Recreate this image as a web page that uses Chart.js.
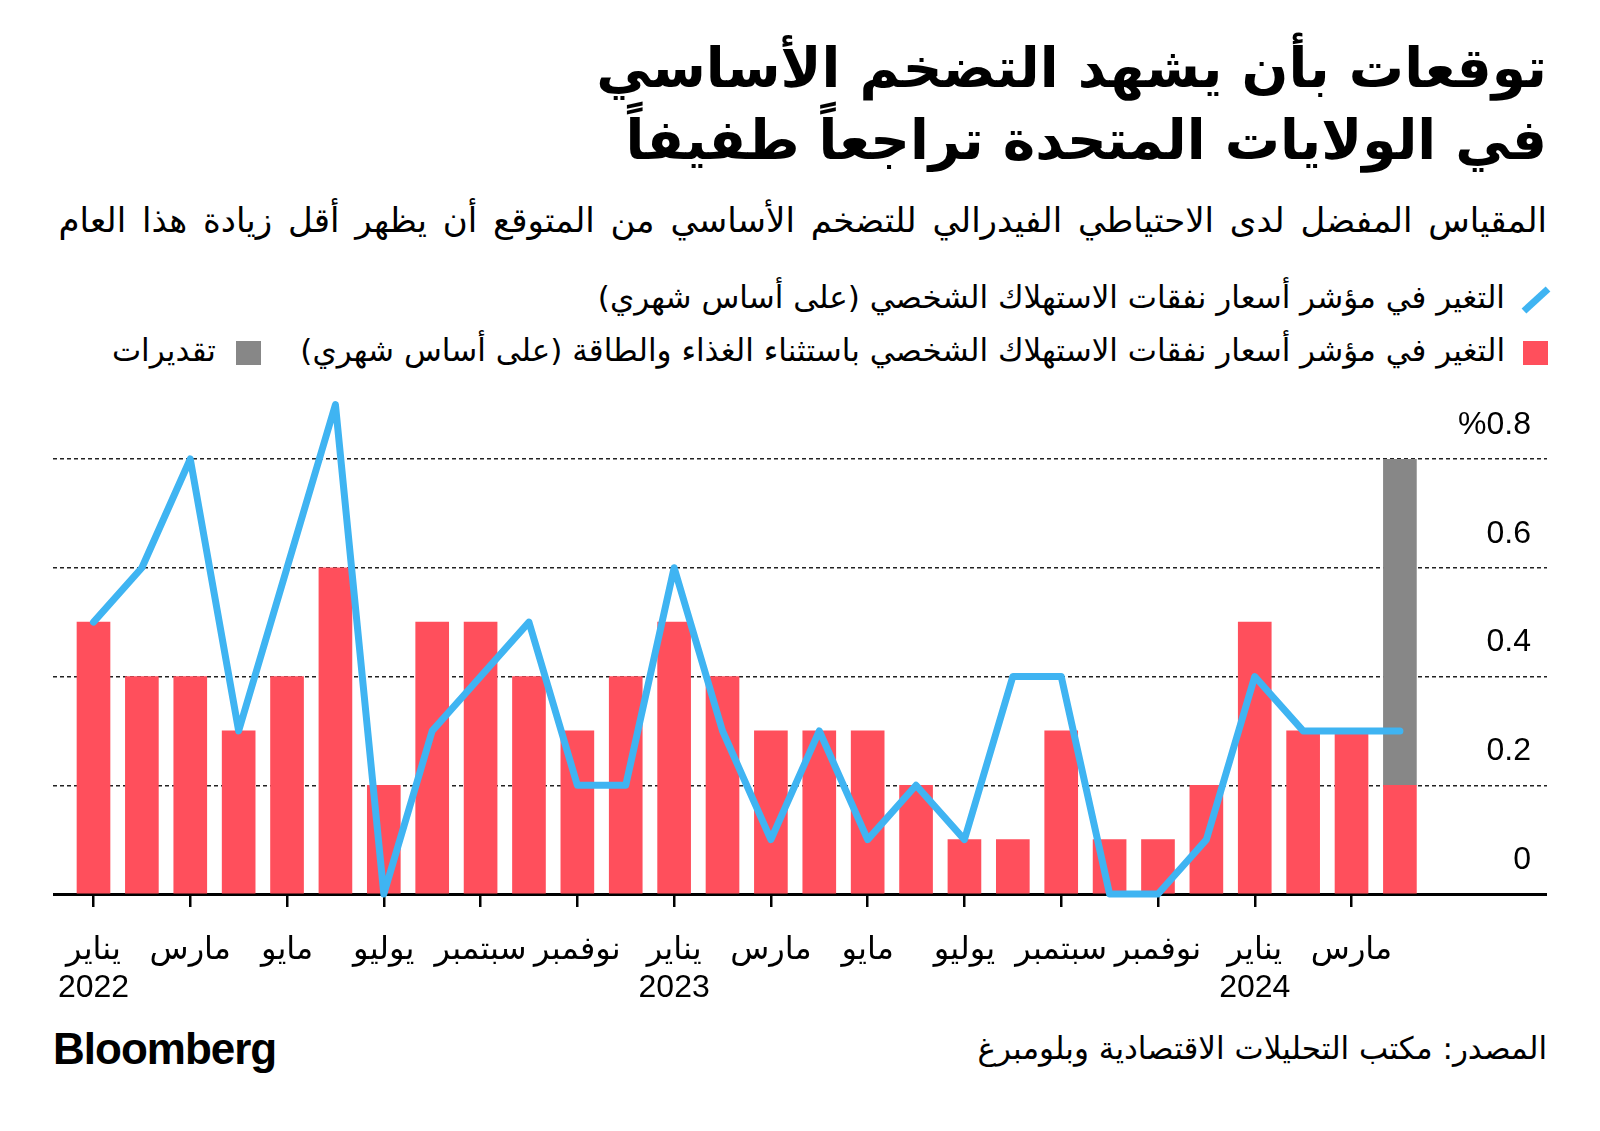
<!DOCTYPE html>
<html lang="ar">
<head>
<meta charset="utf-8">
<script src="https://cdn.jsdelivr.net/npm/chart.js@4.4.1/dist/chart.umd.min.js"></script>
<style>
  body { margin:0; width:1600px; height:1131px; background:#fff; position:relative; overflow:hidden; font-family:'DejaVu Sans', sans-serif; color:#000; }
  .rtl { position:absolute; direction:rtl; text-align:right; white-space:nowrap; }
  #title { right:53px; top:32px; font-size:55px; font-weight:bold; line-height:72px; }
  #subtitle { right:53px; top:200px; font-size:34px; word-spacing:5px; }
  .leg { position:absolute; font-size:31px; white-space:nowrap; direction:rtl; }
  .sq { position:absolute; width:25px; height:24px; }
  #source { right:53px; top:1030px; font-size:31px; }
  #logo { position:absolute; left:53px; top:1024px; font-family:'Liberation Sans', Arial, sans-serif; font-weight:bold; font-size:44px; letter-spacing:-1px; }
  #wrap { position:absolute; left:53px; top:390px; width:1494px; height:624px; }
</style>
</head>
<body>
<div id="title" class="rtl">توقعات بأن يشهد التضخم الأساسي<br>في الولايات المتحدة تراجعاً طفيفاً</div>
<div id="subtitle" class="rtl">المقياس المفضل لدى الاحتياطي الفيدرالي للتضخم الأساسي من المتوقع أن يظهر أقل زيادة هذا العام</div>

<svg style="position:absolute;left:1520px;top:284px" width="32" height="32"><line x1="4" y1="27" x2="28" y2="5" stroke="#3fb4f2" stroke-width="7"/></svg>
<div class="leg" style="right:95px;top:279px">التغير في مؤشر أسعار نفقات الاستهلاك الشخصي (على أساس شهري)</div>
<div class="sq" style="left:1523px;top:341px;background:#ff4f5c"></div>
<div class="leg" style="right:95px;top:332px">التغير في مؤشر أسعار نفقات الاستهلاك الشخصي باستثناء الغذاء والطاقة (على أساس شهري)</div>
<div class="sq" style="left:236px;top:341px;background:#878787"></div>
<div class="leg" style="right:1384px;top:332px">تقديرات</div>

<div id="wrap"><canvas id="c" width="1494" height="624"></canvas></div>

<div id="logo">Bloomberg</div>
<div id="source" class="rtl">المصدر: مكتب التحليلات الاقتصادية وبلومبرغ</div>

<script>
// month labels shown every other month, years under January
const monthNames = ['يناير', 'مارس', 'مايو', 'يوليو', 'سبتمبر', 'نوفمبر'];
const years = ['2022', '2023', '2024'];
// core PCE m/m (Jan 2022 .. Apr 2024)
const coreValues = [0.5, 0.4, 0.4, 0.3, 0.4, 0.6, 0.2, 0.5, 0.5, 0.4, 0.3, 0.4,
                    0.5, 0.4, 0.3, 0.3, 0.3, 0.2, 0.1, 0.1, 0.3, 0.1, 0.1, 0.2,
                    0.5, 0.3, 0.3, 0.2];
// estimate range on top of the last bar
const estimateValues = [null, null, null, null, null, null, null, null, null, null, null, null,
                        null, null, null, null, null, null, null, null, null, null, null, null,
                        null, null, null, 0.6];
// headline PCE m/m
const headlineValues = [0.5, 0.6, 0.8, 0.3, 0.6, 0.9, 0.0, 0.3, 0.4, 0.5, 0.2, 0.2,
                        0.6, 0.3, 0.1, 0.3, 0.1, 0.2, 0.1, 0.4, 0.4, 0.0, 0.0, 0.1,
                        0.4, 0.3, 0.3, 0.3];
const yTicks = [0, 0.2, 0.4, 0.6, 0.8];
const xTicks = [0, 2, 4, 6, 8, 10, 12, 14, 16, 18, 20, 22, 24, 26];

const pts = arr => arr.map((v, i) => ({ x: i, y: v }));
const tickFont = { family: "'Liberation Sans', 'DejaVu Sans', sans-serif", size: 32, lineHeight: 1.2 };

new Chart(document.getElementById('c'), {
  type: 'bar',
  data: {
    datasets: [
      { type: 'line', data: pts(headlineValues), borderColor: '#3fb4f2', borderWidth: 7,
        pointRadius: 0, borderJoinStyle: 'round', borderCapStyle: 'round', clip: false,
        order: 0, stack: 'line', tension: 0 },
      { data: pts(coreValues), backgroundColor: '#ff4f5c', barThickness: 33, order: 1, stack: 'bars' },
      { data: pts(estimateValues), backgroundColor: '#878787', barThickness: 33, order: 2, stack: 'bars' }
    ]
  },
  options: {
    responsive: false,
    devicePixelRatio: 1,
    animation: false,
    layout: { padding: { top: 69, left: 0, right: 0, bottom: 0 } },
    plugins: { legend: { display: false }, tooltip: { enabled: false } },
    scales: {
      x: {
        type: 'linear', min: -0.837, max: 30.04, offset: false,
        afterBuildTicks: s => { s.ticks = xTicks.map(v => ({ value: v })); },
        afterFit: s => { s.height = 120; s.paddingLeft = 0; s.paddingRight = 0; },
        grid: { offset: false, drawOnChartArea: false, drawTicks: true, tickLength: 13, color: '#000', lineWidth: 2.5 },
        border: { display: true, color: '#000', width: 3 },
        ticks: {
          color: '#000', font: tickFont, padding: 24, maxRotation: 0, autoSkip: false,
          callback: v => {
            const m = monthNames[(v % 12) / 2];
            return v % 12 === 0 ? [m, years[v / 12]] : m;
          }
        }
      },
      y: {
        position: 'right', min: 0, max: 0.8, stacked: true,
        afterBuildTicks: s => { s.ticks = yTicks.map(v => ({ value: v })); },
        afterFit: s => { s.width = 0; },
        grid: { color: '#222', lineWidth: 1.5, drawTicks: false },
        border: { display: false, dash: [4, 3] },
        ticks: {
          mirror: true, padding: -16, labelOffset: -34, color: '#000', font: tickFont,
          callback: v => v === 0 ? '0' : (v === 0.8 ? '%0.8' : v.toFixed(1))
        }
      }
    }
  }
});
</script>
</body>
</html>
